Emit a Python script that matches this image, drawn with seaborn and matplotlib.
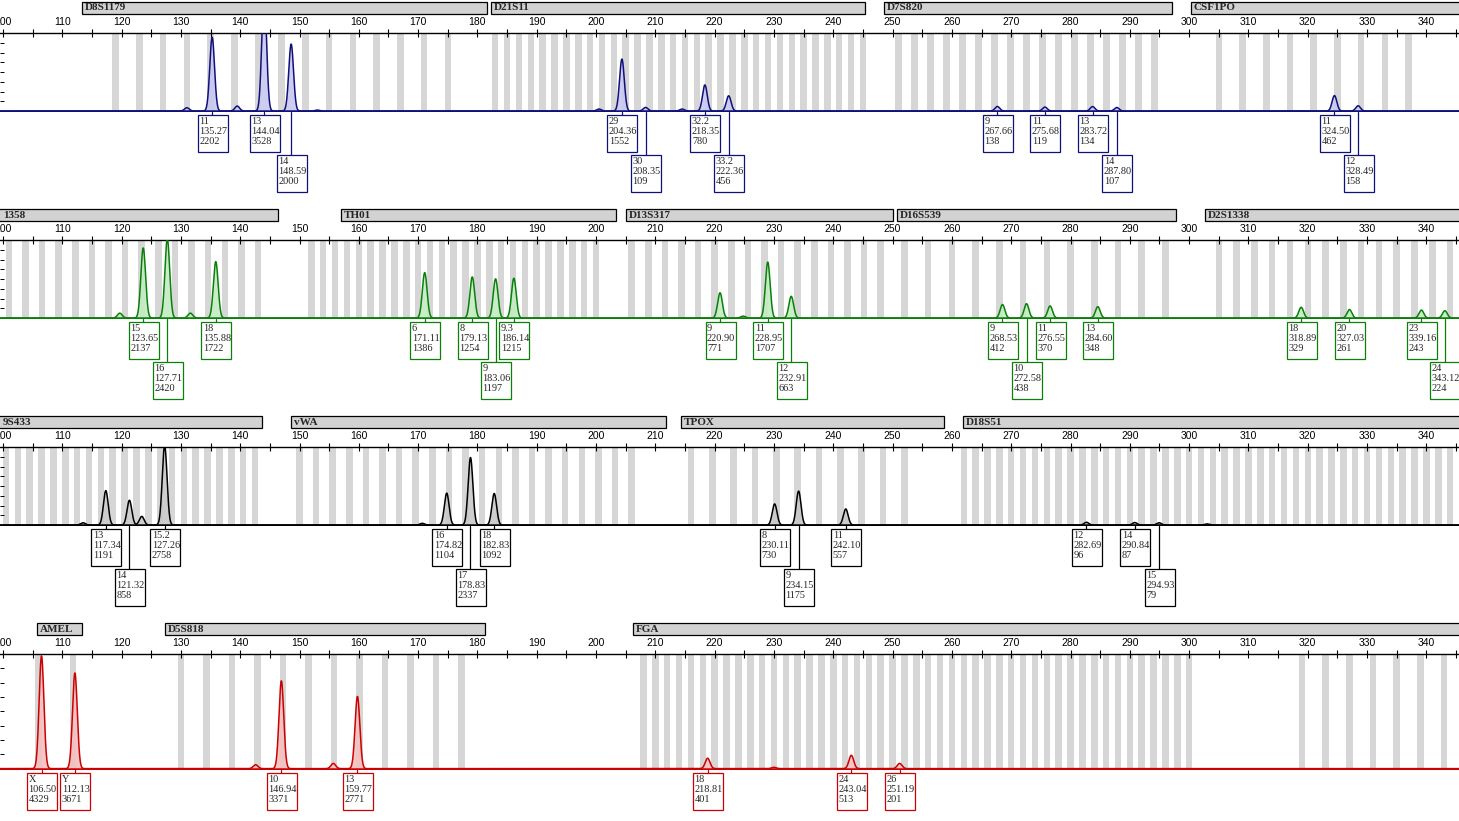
import numpy as np
import pandas as pd
import seaborn as sns
import matplotlib
matplotlib.use("Agg")
import matplotlib.pyplot as plt
from matplotlib.patches import Rectangle
from matplotlib.transforms import blended_transform_factory as btf

sns.set_theme(style="white")
plt.rcParams['font.family'] = ['Liberation Serif', 'DejaVu Serif']

W, H = 1459, 821
XMIN, XMAX = 99.5, 345.5

# ---- data -------------------------------------------------------------
# Row 1 (blue)
r1_loci = [("D8S1179", 113.3, 181.6), ("D21S11", 182.3, 245.4), ("D7S820", 248.6, 297.1), ("CSF1PO", 300.3, 350)]
r1_allele = ["11", "13", "14", "29", "30", "32.2", "33.2", "9", "11", "13", "14", "11", "12"]
r1_size = [135.27, 144.04, 148.59, 204.36, 208.35, 218.35, 222.36, 267.66, 275.68, 283.72, 287.80, 324.50, 328.49]
r1_height = [2202, 3528, 2000, 1552, 109, 780, 456, 138, 119, 134, 107, 462, 158]
r1_level = [0, 0, 1, 0, 1, 0, 1, 0, 0, 0, 1, 0, 1]
r1_minor_size = [131.0, 139.5, 153.0, 200.5, 214.5]
r1_minor_height = [100, 150, 30, 60, 60]

# Row 2 (green)
r2_loci = [("1358", 90, 146.4), ("TH01", 157.0, 203.4), ("D13S317", 205.0, 250.0), ("D16S539", 250.8, 297.8), ("D2S1338", 302.7, 350)]
r2_allele = ["15", "16", "18", "6", "8", "9", "9.3", "9", "11", "12", "9", "10", "11", "13", "18", "20", "23", "24"]
r2_size = [123.65, 127.71, 135.88, 171.11, 179.13, 183.06, 186.14, 220.90, 228.95, 232.91, 268.53, 272.58, 276.55, 284.60, 318.89, 327.03, 339.16, 343.12]
r2_height = [2137, 2420, 1722, 1386, 1254, 1197, 1215, 771, 1707, 663, 412, 438, 370, 348, 329, 261, 243, 224]
r2_level = [0, 1, 0, 0, 0, 1, 0, 0, 0, 1, 0, 1, 0, 0, 0, 0, 0, 1]
r2_minor_size = [119.7, 131.6, 224.8]
r2_minor_height = [150, 150, 60]

# Row 3 (black)
r3_loci = [("9S433", 90, 143.7), ("vWA", 148.6, 211.8), ("TPOX", 214.3, 258.7), ("D18S51", 261.9, 350)]
r3_allele = ["13", "14", "15.2", "16", "17", "18", "8", "9", "11", "12", "14", "15"]
r3_size = [117.34, 121.32, 127.26, 174.82, 178.83, 182.83, 230.11, 234.15, 242.10, 282.69, 290.84, 294.93]
r3_height = [1191, 858, 2758, 1104, 2337, 1092, 730, 1175, 557, 96, 87, 79]
r3_level = [0, 1, 0, 0, 1, 0, 0, 1, 0, 0, 0, 1]
r3_minor_size = [113.5, 123.4, 170.7, 303.0]
r3_minor_height = [80, 300, 60, 40]

# Row 4 (red)
r4_loci = [("AMEL", 105.7, 113.3), ("D5S818", 127.3, 181.3), ("FGA", 206.2, 350)]
r4_allele = ["X", "Y", "10", "13", "18", "24", "26"]
r4_size = [106.50, 112.13, 146.94, 159.77, 218.81, 243.04, 251.19]
r4_height = [4329, 3671, 3371, 2771, 401, 513, 201]
r4_level = [0, 0, 0, 0, 0, 0, 0]
r4_minor_size = [142.6, 155.7, 230.0]
r4_minor_height = [150, 200, 50]

# allelic bin stripes (start, stop, spacing)
r1_bins = [(119, 176, 4.0), (183, 245, 2.0), (251, 295, 2.7), (305, 340, 4.0)]
r2_bins = [(101, 145, 2.8), (152, 201, 2.0), (206, 249, 2.8), (252, 296, 4.0), (305, 345, 3.0)]
r3_bins = [(100.5, 143, 2.0), (150, 206, 2.8), (216, 252, 3.6), (262, 345, 2.0)]
r4_bins = [(106, 107, 6), (111.8, 112.8, 6), (130, 178, 4.3), (208, 300, 2.0), (319, 345, 4.0)]

rows = [
    dict(top=33, base=112, ymax=2330, line="#10107a", fill="#c8c8f0", loci=r1_loci, a=r1_allele, s=r1_size, h=r1_height, l=r1_level, ms=r1_minor_size, mh=r1_minor_height, bins=r1_bins),
    dict(top=240, base=319, ymax=2380, line="#0a800a", fill="#c4ecc4", loci=r2_loci, a=r2_allele, s=r2_size, h=r2_height, l=r2_level, ms=r2_minor_size, mh=r2_minor_height, bins=r2_bins),
    dict(top=447, base=526, ymax=2700, line="#000000", fill="#c8c8c8", loci=r3_loci, a=r3_allele, s=r3_size, h=r3_height, l=r3_level, ms=r3_minor_size, mh=r3_minor_height, bins=r3_bins),
    dict(top=654, base=770, ymax=4400, line="#cc0000", fill="#f4c0c0", loci=r4_loci, a=r4_allele, s=r4_size, h=r4_height, l=r4_level, ms=r4_minor_size, mh=r4_minor_height, bins=r4_bins),
]

fig = plt.figure(figsize=(W / 100, H / 100), dpi=100)
fig.patch.set_facecolor("white")
fy = lambda px: (H - px) / H
BP = (XMAX - XMIN) / W  # bp per pixel

xs = np.linspace(XMIN, XMAX, 6000)
for r in rows:
    ax = fig.add_axes([0, fy(r["base"]), 1, (r["base"] - r["top"]) / H])
    ax.set_xlim(XMIN, XMAX)
    ax.set_ylim(-r["ymax"] * 0.012, r["ymax"])
    for (a0, a1, st) in r["bins"]:
        for b in np.arange(a0, a1 + 0.01, st):
            ax.axvspan(b - 0.55, b + 0.55, color="#d6d6d6", lw=0, zorder=0)
    y = np.zeros_like(xs)
    for s, h in zip(list(r["s"]) + list(r["ms"]), list(r["h"]) + list(r["mh"])):
        y += h * np.exp(-0.5 * ((xs - s) / 0.4) ** 2)
    ax.fill_between(xs, 0, y, color=r["fill"], lw=0, zorder=1, alpha=0.9)
    sns.lineplot(x=xs, y=y, ax=ax, color=r["line"], lw=1.1, zorder=3)
    ax.axhline(0, color=r["line"], lw=1.8, zorder=4)
    for sp in ["right", "bottom", "left"]:
        ax.spines[sp].set_visible(False)
    ax.spines["top"].set_color("black")
    ax.spines["top"].set_linewidth(1)
    ax.xaxis.tick_top()
    ax.set_xticks(np.arange(100, 346, 10))
    ax.set_xticks(np.arange(105, 346, 10), minor=True)
    ax.tick_params(axis="x", which="both", direction="inout", length=6, width=0.8, color="black",
                   top=True, bottom=False, pad=1, labelsize=7.5, labelcolor="black")
    for t in ax.get_xticklabels():
        t.set_family(["Liberation Sans", "DejaVu Sans"])
    ax.set_yticks(np.linspace(0, r["ymax"], 9)[1:])
    ax.set_yticklabels([])
    ax.tick_params(axis="y", left=True, direction="in", length=3, width=0.7, color="black")
    ax.grid(False)

    tr = btf(ax.transData, fig.transFigure)
    for name, a0, a1 in r["loci"]:
        y0, y1 = fy(r["top"] - 19), fy(r["top"] - 31)
        ax.add_patch(Rectangle((a0, y0), a1 - a0, y1 - y0, transform=tr, facecolor="#d2d2d2",
                               edgecolor="black", lw=0.9, clip_on=False, zorder=5))
        ax.text(max(a0, XMIN) + 0.5, (y0 + y1) / 2, name, transform=tr, fontsize=8, fontweight="bold",
                va="center", ha="left", clip_on=False, zorder=6)
    bw = 30 * BP
    for al, s, h, lv in zip(r["a"], r["s"], r["h"], r["l"]):
        btop = r["base"] + 3 + 40 * lv
        x0 = s - 14.5 * BP
        ax.plot([s, s], [fy(r["base"]), fy(btop)], transform=tr, color=r["line"], lw=0.9, clip_on=False, zorder=5)
        ax.add_patch(Rectangle((x0, fy(btop + 37)), bw, 37 / H, transform=tr, facecolor="white",
                               edgecolor=r["line"], lw=0.9, clip_on=False, zorder=5))
        ax.text(x0 + 1.5 * BP, fy(btop + 2), f"{al}\n{s:.2f}\n{h}", transform=tr, fontsize=7.4,
                va="top", ha="left", linespacing=1.12, clip_on=False, zorder=6)

fig.savefig("out.png", dpi=100, facecolor="white")
